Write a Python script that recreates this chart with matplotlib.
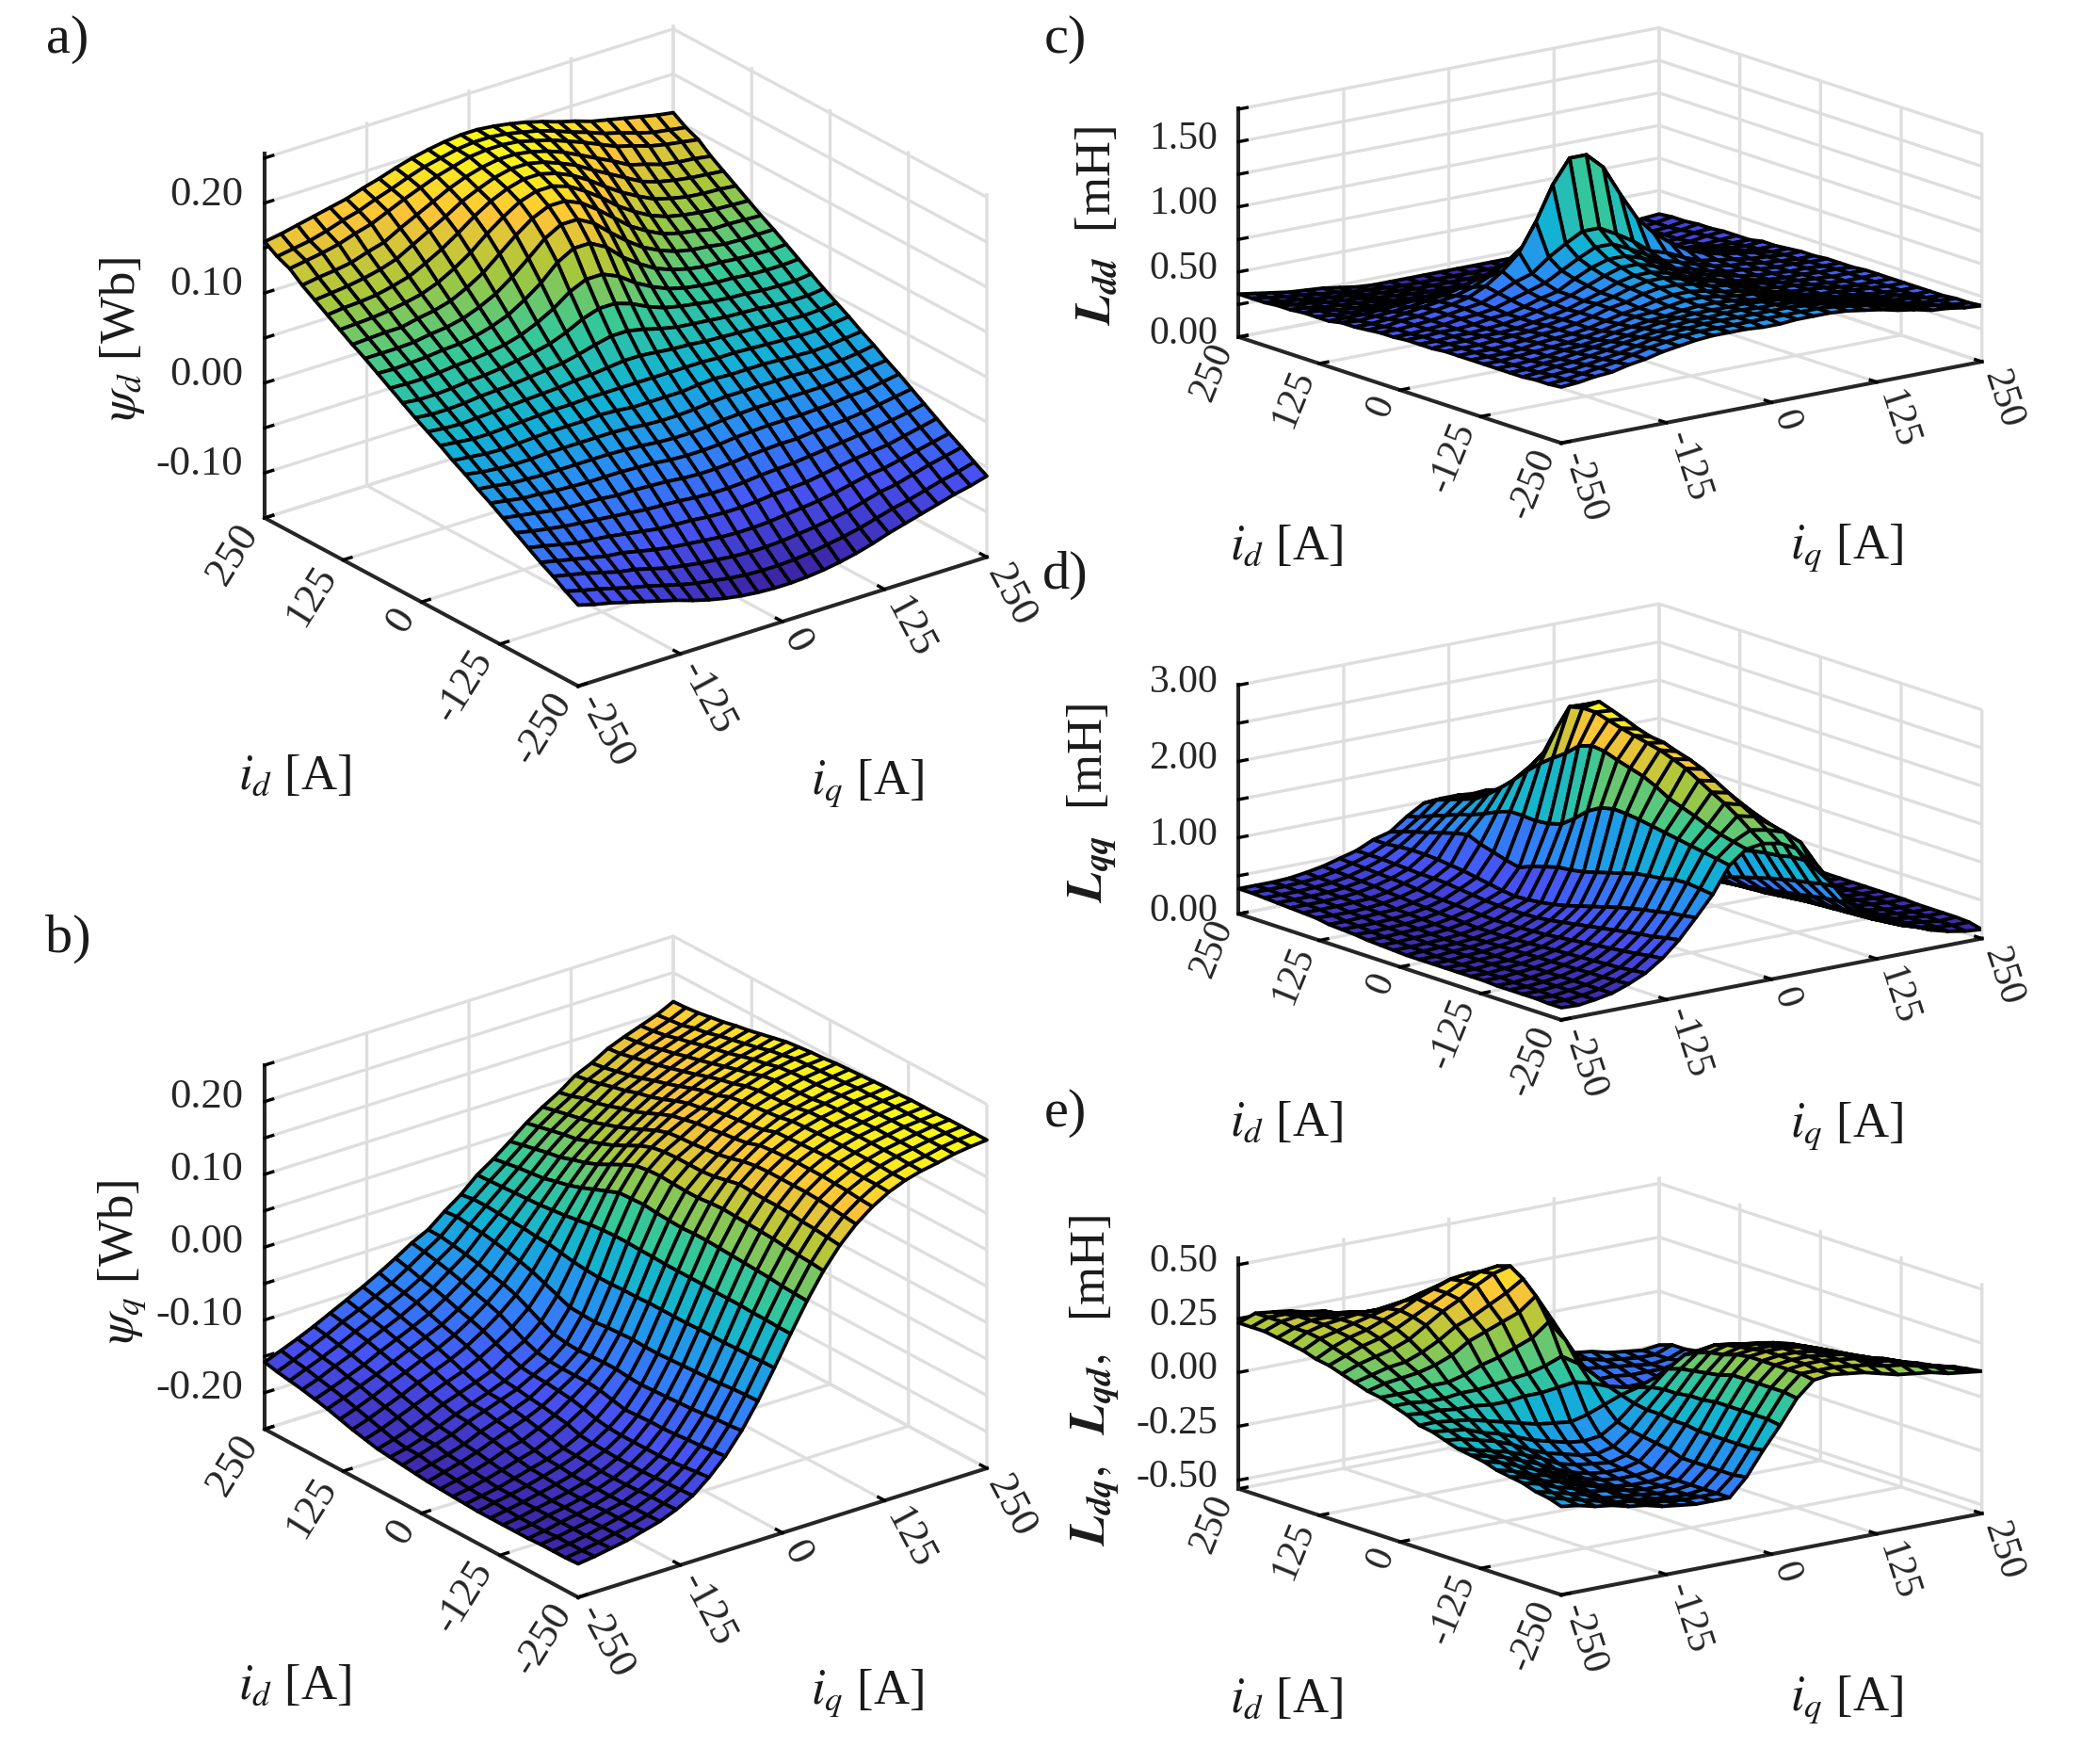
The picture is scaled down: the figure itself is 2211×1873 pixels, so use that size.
import numpy as np
import matplotlib
matplotlib.use("Agg")
import matplotlib.pyplot as plt
from matplotlib.colors import LinearSegmentedColormap, Normalize
from mpl_toolkits.mplot3d import proj3d

FIG_W = 2211
FIG_H = 1873

# Grid of the stored maps, rows are i_d, columns are i_q.
I_D = [-250, -230, -210, -190, -170, -150, -130, -110, -90, -70, -50, -30, -10, 10, 30, 50, 70, 90, 110, 130, 150, 170, 190, 210, 230, 250]
I_Q = [-250, -230, -210, -190, -170, -150, -130, -110, -90, -70, -50, -30, -10, 10, 30, 50, 70, 90, 110, 130, 150, 170, 190, 210, 230, 250]

AXIS_TICKS = [-250, -125, 0, 125, 250]
AXIS_TICK_LABELS = ["-250", "-125", "0", "125", "250"]

# Flux linkage in mWb.
PSI_D = [
    [-60, -65, -69, -74, -79, -84, -89, -95, -100, -104, -107, -109, -110, -110, -109, -107, -104, -100, -95, -89, -84, -79, -74, -69, -65, -60],
    [-52, -57, -61, -66, -71, -75, -80, -85, -89, -92, -95, -97, -98, -98, -97, -95, -92, -89, -85, -80, -75, -71, -66, -61, -57, -52],
    [-43, -47, -51, -56, -61, -64, -69, -74, -77, -80, -82, -84, -85, -85, -84, -82, -80, -77, -74, -69, -64, -61, -56, -51, -47, -43],
    [-35, -39, -43, -47, -51, -53, -57, -61, -64, -66, -68, -70, -71, -71, -70, -68, -66, -64, -61, -57, -53, -51, -47, -43, -39, -35],
    [-26, -30, -34, -38, -40, -42, -45, -48, -51, -52, -53, -55, -56, -56, -55, -53, -52, -51, -48, -45, -42, -40, -38, -34, -30, -26],
    [-17, -21, -24, -27, -29, -31, -33, -35, -37, -38, -39, -41, -42, -42, -41, -39, -38, -37, -35, -33, -31, -29, -27, -24, -21, -17],
    [-8, -11, -14, -17, -19, -20, -21, -23, -23, -24, -25, -27, -28, -28, -27, -25, -24, -23, -23, -21, -20, -19, -17, -14, -11, -8],
    [1, -2, -5, -6, -8, -9, -10, -10, -10, -11, -12, -14, -15, -15, -14, -12, -11, -10, -10, -10, -9, -8, -6, -5, -2, 1],
    [9, 7, 4, 3, 2, 2, 2, 2, 2, 1, 0, -2, -3, -3, -2, 0, 1, 2, 2, 2, 2, 2, 3, 4, 7, 9],
    [18, 15, 13, 12, 12, 13, 13, 13, 13, 13, 12, 10, 9, 9, 10, 12, 13, 13, 13, 13, 13, 12, 12, 13, 15, 18],
    [26, 24, 22, 21, 22, 23, 24, 24, 24, 25, 24, 22, 22, 22, 22, 24, 25, 24, 24, 24, 23, 22, 21, 22, 24, 26],
    [35, 33, 31, 31, 32, 33, 34, 35, 35, 36, 36, 36, 36, 36, 36, 36, 36, 35, 35, 34, 33, 32, 31, 31, 33, 35],
    [43, 41, 40, 41, 42, 43, 44, 45, 46, 48, 49, 51, 53, 53, 51, 49, 48, 46, 45, 44, 43, 42, 41, 40, 41, 43],
    [51, 49, 49, 50, 52, 53, 54, 56, 58, 60, 64, 69, 73, 73, 69, 64, 60, 58, 56, 54, 53, 52, 50, 49, 49, 51],
    [60, 58, 58, 59, 61, 62, 64, 67, 70, 74, 81, 90, 96, 96, 90, 81, 74, 70, 67, 64, 62, 61, 59, 58, 58, 60],
    [69, 68, 68, 69, 71, 72, 74, 77, 82, 90, 100, 113, 121, 121, 113, 100, 90, 82, 77, 74, 72, 71, 69, 68, 68, 69],
    [78, 77, 78, 79, 81, 82, 85, 90, 97, 108, 121, 138, 148, 148, 138, 121, 108, 97, 90, 85, 82, 81, 79, 78, 77, 78],
    [87, 87, 87, 88, 91, 93, 97, 104, 113, 126, 141, 157, 167, 167, 157, 141, 126, 113, 104, 97, 93, 91, 88, 87, 87, 87],
    [95, 96, 97, 97, 101, 104, 109, 118, 129, 144, 159, 172, 180, 180, 172, 159, 144, 129, 118, 109, 104, 101, 97, 97, 96, 95],
    [104, 105, 106, 108, 111, 115, 122, 132, 144, 159, 172, 183, 189, 189, 183, 172, 159, 144, 132, 122, 115, 111, 108, 106, 105, 104],
    [113, 115, 116, 118, 122, 127, 136, 146, 158, 171, 182, 190, 195, 195, 190, 182, 171, 158, 146, 136, 127, 122, 118, 116, 115, 113],
    [122, 124, 126, 129, 133, 139, 149, 159, 169, 180, 188, 195, 199, 199, 195, 188, 180, 169, 159, 149, 139, 133, 129, 126, 124, 122],
    [131, 134, 136, 139, 145, 150, 160, 169, 178, 187, 194, 199, 202, 202, 199, 194, 187, 178, 169, 160, 150, 145, 139, 136, 134, 131],
    [142, 145, 148, 152, 158, 163, 171, 179, 186, 193, 198, 203, 205, 205, 203, 198, 193, 186, 179, 171, 163, 158, 152, 148, 145, 142],
    [148, 151, 154, 159, 165, 170, 177, 183, 190, 196, 200, 204, 206, 206, 204, 200, 196, 190, 183, 177, 170, 165, 159, 154, 151, 148],
    [157, 160, 164, 168, 172, 176, 182, 187, 193, 198, 202, 205, 207, 207, 205, 202, 198, 193, 187, 182, 176, 172, 168, 164, 160, 157],
]

PSI_Q = [
    [-204, -201, -197, -193, -187, -181, -172, -160, -142, -120, -92, -58, -20, 20, 58, 92, 120, 142, 159, 172, 181, 187, 191, 196, 199, 201],
    [-205, -202, -198, -193, -188, -182, -173, -161, -144, -122, -94, -59, -20, 20, 59, 94, 122, 144, 160, 173, 181, 187, 191, 196, 199, 201],
    [-205, -202, -198, -193, -188, -182, -173, -162, -146, -124, -95, -60, -21, 21, 60, 95, 124, 146, 162, 173, 182, 188, 192, 196, 199, 201],
    [-205, -202, -198, -194, -188, -183, -174, -163, -148, -125, -97, -62, -21, 21, 62, 97, 125, 148, 163, 174, 182, 188, 192, 196, 199, 201],
    [-206, -203, -198, -194, -189, -183, -175, -164, -149, -127, -99, -63, -22, 22, 63, 99, 127, 149, 164, 175, 182, 188, 192, 196, 198, 200],
    [-206, -203, -198, -194, -189, -183, -175, -164, -149, -128, -100, -64, -22, 22, 64, 100, 128, 149, 164, 175, 182, 188, 192, 196, 198, 200],
    [-206, -203, -198, -194, -189, -183, -175, -164, -149, -128, -101, -65, -22, 22, 65, 101, 128, 149, 164, 174, 182, 187, 191, 195, 198, 200],
    [-206, -202, -198, -193, -188, -182, -173, -163, -149, -129, -102, -66, -23, 23, 66, 102, 129, 149, 163, 173, 181, 186, 190, 194, 197, 199],
    [-206, -201, -197, -192, -186, -180, -172, -162, -148, -130, -103, -67, -23, 23, 67, 103, 130, 148, 162, 172, 180, 186, 190, 194, 196, 199],
    [-205, -201, -197, -191, -185, -179, -171, -160, -145, -126, -102, -67, -23, 23, 67, 102, 126, 145, 160, 171, 179, 185, 189, 193, 196, 198],
    [-204, -200, -195, -189, -182, -176, -166, -154, -140, -122, -100, -66, -23, 23, 66, 100, 122, 140, 154, 165, 175, 181, 186, 191, 194, 197],
    [-203, -198, -193, -186, -178, -172, -162, -151, -136, -120, -100, -67, -24, 24, 67, 100, 120, 136, 151, 162, 173, 179, 185, 190, 193, 196],
    [-202, -196, -190, -183, -174, -166, -158, -148, -134, -120, -101, -68, -24, 24, 68, 101, 120, 134, 149, 160, 171, 178, 184, 189, 192, 195],
    [-200, -194, -188, -181, -171, -163, -155, -146, -132, -120, -102, -70, -25, 25, 70, 102, 120, 132, 146, 158, 169, 177, 184, 188, 191, 193],
    [-198, -191, -184, -177, -167, -159, -151, -143, -131, -119, -101, -69, -25, 25, 69, 101, 119, 131, 144, 155, 166, 174, 181, 186, 190, 192],
    [-196, -191, -184, -175, -166, -158, -150, -141, -129, -116, -98, -68, -24, 24, 68, 98, 116, 129, 140, 149, 159, 168, 175, 181, 186, 190],
    [-194, -188, -180, -171, -161, -153, -145, -136, -122, -109, -90, -61, -22, 22, 61, 90, 109, 123, 136, 146, 156, 164, 171, 178, 183, 188],
    [-190, -183, -174, -165, -156, -147, -139, -128, -115, -100, -81, -54, -19, 19, 54, 81, 100, 115, 129, 140, 150, 159, 166, 173, 178, 184],
    [-186, -178, -169, -160, -150, -141, -132, -121, -107, -91, -72, -47, -16, 16, 47, 72, 91, 107, 121, 133, 144, 153, 161, 168, 174, 180],
    [-181, -173, -164, -154, -145, -135, -126, -115, -101, -85, -66, -42, -15, 14, 41, 65, 84, 100, 114, 127, 138, 148, 156, 164, 170, 176],
    [-176, -168, -159, -150, -140, -130, -120, -110, -96, -80, -62, -38, -13, 12, 37, 60, 78, 94, 109, 123, 133, 143, 152, 160, 166, 173],
    [-172, -164, -155, -146, -135, -125, -115, -104, -90, -74, -57, -34, -12, 11, 32, 54, 72, 88, 103, 117, 127, 138, 147, 155, 161, 169],
    [-168, -160, -150, -141, -130, -120, -110, -98, -85, -69, -53, -31, -11, 10, 30, 51, 69, 84, 98, 113, 122, 134, 143, 151, 158, 166],
    [-165, -156, -147, -137, -126, -116, -105, -94, -81, -65, -50, -29, -10, 9, 28, 47, 65, 80, 95, 108, 118, 130, 138, 146, 153, 163],
    [-162, -153, -143, -133, -122, -112, -101, -90, -76, -61, -47, -27, -10, 8, 25, 43, 61, 76, 89, 104, 114, 126, 135, 143, 151, 161],
    [-158, -149, -140, -130, -119, -108, -97, -85, -72, -58, -47, -29, -13, 7, 22, 39, 57, 72, 85, 101, 111, 124, 133, 141, 149, 160],
]

# Inductances in 0.01 mH.
L_DD = [
    [43, 44, 46, 47, 50, 52, 55, 57, 59, 60, 60, 60, 59, 59, 60, 60, 60, 59, 57, 55, 52, 50, 47, 46, 44, 43],
    [42, 43, 45, 47, 49, 52, 55, 57, 59, 60, 60, 60, 60, 60, 60, 60, 60, 59, 57, 55, 52, 49, 47, 45, 43, 42],
    [42, 43, 44, 46, 48, 50, 53, 56, 58, 59, 60, 60, 60, 60, 60, 60, 59, 58, 56, 53, 50, 48, 46, 44, 43, 42],
    [41, 42, 44, 45, 47, 49, 52, 54, 56, 58, 59, 59, 60, 60, 59, 59, 58, 56, 54, 52, 49, 47, 45, 44, 42, 41],
    [41, 41, 43, 44, 46, 48, 50, 52, 55, 57, 58, 59, 59, 59, 59, 58, 57, 55, 52, 50, 48, 46, 44, 43, 41, 41],
    [41, 41, 42, 43, 45, 46, 48, 51, 53, 55, 56, 58, 59, 59, 58, 56, 55, 53, 51, 48, 46, 45, 43, 42, 41, 41],
    [41, 41, 42, 43, 44, 45, 47, 49, 52, 55, 56, 58, 60, 60, 58, 56, 55, 52, 49, 47, 45, 44, 43, 42, 41, 41],
    [41, 41, 41, 42, 44, 45, 46, 48, 51, 54, 56, 59, 61, 61, 59, 56, 54, 51, 48, 46, 45, 44, 42, 41, 41, 41],
    [41, 41, 41, 42, 43, 45, 46, 48, 51, 55, 57, 61, 63, 63, 61, 57, 55, 51, 48, 46, 45, 43, 42, 41, 41, 41],
    [41, 41, 41, 42, 43, 44, 46, 48, 51, 55, 58, 62, 65, 65, 62, 58, 55, 51, 48, 46, 44, 43, 42, 41, 41, 41],
    [40, 41, 41, 42, 42, 43, 45, 47, 50, 54, 58, 63, 66, 66, 63, 58, 54, 50, 47, 45, 43, 42, 42, 41, 41, 40],
    [40, 40, 41, 41, 42, 43, 45, 48, 51, 55, 60, 65, 69, 69, 65, 60, 55, 51, 48, 45, 43, 42, 41, 41, 40, 40],
    [40, 40, 41, 41, 42, 44, 45, 48, 52, 55, 62, 68, 72, 72, 68, 62, 55, 52, 48, 45, 44, 42, 41, 41, 40, 40],
    [39, 39, 40, 41, 43, 44, 46, 50, 54, 58, 65, 72, 78, 78, 72, 65, 58, 54, 50, 46, 44, 43, 41, 40, 39, 39],
    [39, 39, 40, 41, 43, 45, 47, 52, 58, 62, 72, 80, 87, 87, 80, 72, 62, 58, 52, 47, 45, 43, 41, 40, 39, 39],
    [38, 38, 40, 41, 43, 45, 48, 54, 63, 75, 96, 122, 140, 140, 128, 105, 84, 70, 60, 52, 47, 44, 42, 40, 38, 38],
    [37, 37, 38, 40, 42, 44, 46, 50, 56, 64, 74, 88, 100, 100, 88, 74, 64, 56, 50, 46, 44, 42, 40, 38, 37, 37],
    [37, 36, 37, 38, 39, 41, 43, 46, 50, 54, 58, 60, 62, 62, 60, 58, 54, 50, 46, 43, 41, 39, 38, 37, 36, 37],
    [35, 35, 35, 36, 37, 38, 39, 41, 42, 45, 47, 48, 49, 49, 48, 47, 45, 42, 41, 39, 38, 37, 36, 35, 35, 35],
    [35, 34, 33, 33, 33, 33, 33, 34, 34, 35, 35, 36, 36, 36, 36, 35, 35, 34, 34, 33, 33, 33, 33, 33, 34, 35],
    [35, 34, 32, 31, 30, 30, 29, 28, 27, 27, 27, 27, 28, 28, 27, 27, 27, 27, 28, 29, 30, 30, 31, 32, 34, 35],
    [34, 33, 31, 30, 29, 28, 26, 25, 24, 24, 24, 24, 24, 24, 24, 24, 24, 24, 25, 26, 28, 29, 30, 31, 33, 34],
    [34, 32, 31, 29, 28, 27, 25, 24, 23, 22, 22, 22, 22, 22, 22, 22, 22, 23, 24, 25, 27, 28, 29, 31, 32, 34],
    [33, 31, 30, 28, 27, 26, 24, 23, 22, 21, 21, 21, 21, 21, 21, 21, 21, 22, 23, 24, 26, 27, 28, 30, 31, 33],
    [33, 31, 29, 28, 26, 25, 23, 22, 21, 20, 20, 20, 20, 20, 20, 20, 20, 21, 22, 23, 25, 26, 28, 29, 31, 33],
    [33, 31, 29, 27, 26, 25, 23, 21, 20, 20, 20, 20, 20, 20, 20, 20, 20, 20, 21, 23, 25, 26, 27, 29, 31, 32],
]

L_QQ = [
    [16, 15, 18, 22, 30, 40, 55, 75, 100, 126, 160, 177, 180, 176, 165, 136, 112, 82, 63, 50, 40, 33, 24, 18, 14, 12],
    [16, 16, 18, 22, 29, 38, 53, 72, 97, 128, 163, 181, 192, 188, 181, 163, 128, 97, 72, 53, 38, 29, 22, 18, 16, 16],
    [17, 16, 19, 22, 28, 36, 50, 68, 95, 130, 166, 185, 205, 200, 185, 166, 130, 95, 68, 50, 36, 28, 22, 19, 16, 17],
    [17, 17, 19, 22, 28, 35, 48, 66, 91, 129, 169, 191, 216, 210, 191, 169, 129, 91, 66, 48, 35, 28, 22, 19, 17, 17],
    [17, 17, 19, 22, 27, 34, 46, 63, 88, 125, 172, 198, 225, 220, 198, 172, 125, 88, 63, 46, 34, 27, 22, 19, 17, 17],
    [17, 17, 19, 22, 27, 33, 44, 60, 84, 123, 175, 204, 235, 230, 204, 175, 123, 84, 60, 44, 33, 27, 22, 19, 17, 17],
    [18, 18, 20, 22, 26, 32, 42, 57, 80, 120, 178, 210, 245, 240, 210, 178, 120, 80, 57, 42, 32, 26, 22, 20, 18, 18],
    [18, 18, 20, 22, 26, 31, 40, 54, 75, 115, 181, 220, 252, 247, 220, 181, 115, 75, 54, 40, 31, 26, 22, 20, 18, 18],
    [18, 18, 20, 21, 25, 30, 38, 51, 70, 110, 183, 228, 258, 252, 228, 183, 110, 70, 51, 38, 30, 25, 21, 20, 18, 18],
    [18, 18, 20, 21, 25, 29, 36, 48, 65, 105, 184, 233, 262, 258, 233, 184, 105, 65, 48, 36, 29, 25, 21, 20, 18, 18],
    [18, 18, 20, 21, 24, 28, 35, 45, 60, 100, 180, 238, 266, 260, 238, 180, 100, 60, 45, 35, 28, 24, 21, 20, 18, 18],
    [18, 18, 20, 21, 24, 27, 34, 43, 56, 97, 170, 244, 270, 265, 244, 170, 97, 56, 43, 34, 27, 24, 21, 20, 18, 18],
    [18, 19, 20, 21, 23, 27, 33, 42, 53, 95, 155, 246, 275, 272, 246, 155, 95, 53, 42, 33, 27, 23, 21, 20, 19, 18],
    [19, 19, 20, 21, 23, 27, 33, 42, 51, 90, 142, 240, 280, 278, 240, 142, 90, 51, 42, 33, 27, 23, 21, 20, 19, 19],
    [20, 20, 21, 22, 24, 28, 34, 42, 50, 85, 137, 225, 280, 284, 225, 137, 85, 50, 42, 34, 28, 24, 22, 21, 20, 20],
    [21, 21, 22, 23, 25, 29, 35, 43, 52, 78, 135, 213, 276, 275, 213, 135, 78, 52, 43, 35, 29, 25, 23, 22, 21, 21],
    [23, 22, 23, 24, 26, 30, 36, 45, 55, 82, 136, 200, 242, 242, 200, 136, 82, 55, 45, 36, 30, 26, 24, 23, 22, 23],
    [24, 24, 24, 25, 27, 31, 37, 47, 58, 87, 136, 185, 205, 205, 185, 136, 87, 58, 47, 37, 31, 27, 25, 24, 24, 24],
    [25, 25, 26, 27, 28, 32, 38, 49, 61, 92, 130, 168, 182, 182, 168, 130, 92, 61, 49, 38, 32, 28, 27, 26, 25, 25],
    [28, 27, 27, 28, 30, 34, 40, 50, 63, 99, 122, 152, 160, 160, 152, 122, 99, 63, 50, 40, 34, 30, 28, 27, 27, 28],
    [29, 29, 29, 30, 31, 35, 42, 50, 65, 95, 115, 138, 145, 145, 138, 115, 95, 65, 50, 42, 35, 31, 30, 29, 29, 29],
    [30, 30, 30, 31, 33, 37, 43, 51, 66, 90, 110, 126, 130, 130, 126, 110, 90, 66, 51, 43, 37, 33, 31, 30, 30, 30],
    [31, 31, 31, 32, 34, 38, 44, 52, 66, 85, 103, 120, 120, 120, 120, 103, 85, 66, 52, 44, 38, 34, 32, 31, 31, 31],
    [32, 32, 32, 33, 35, 39, 45, 53, 65, 80, 97, 114, 110, 110, 114, 97, 80, 65, 53, 45, 39, 35, 33, 32, 32, 32],
    [33, 33, 33, 34, 36, 40, 46, 53, 63, 75, 90, 108, 105, 105, 108, 90, 75, 63, 53, 46, 40, 36, 34, 33, 33, 33],
    [33, 33, 33, 34, 37, 41, 47, 53, 63, 69, 85, 98, 100, 100, 98, 85, 69, 63, 53, 47, 41, 37, 34, 33, 33, 33],
]

L_DQ = [
    [-13, -14, -16, -17, -19, -20, -22, -23, -24, -24, -24, -16, -5, 5, 16, 23, 24, 23, 22, 20, 18, 17, 16, 14, 13, 12],
    [-11, -13, -15, -17, -19, -20, -22, -23, -24, -24, -24, -17, -6, 6, 17, 24, 24, 24, 23, 22, 20, 19, 17, 15, 13, 11],
    [-10, -12, -14, -16, -19, -20, -23, -24, -25, -25, -24, -17, -6, 6, 17, 24, 25, 25, 24, 23, 20, 19, 16, 14, 12, 10],
    [-8, -10, -13, -15, -18, -19, -23, -24, -25, -25, -24, -17, -6, 6, 17, 24, 25, 25, 24, 23, 19, 18, 15, 13, 10, 8],
    [-7, -9, -12, -14, -17, -19, -22, -24, -25, -25, -24, -17, -6, 6, 17, 24, 25, 25, 24, 22, 19, 17, 14, 12, 9, 7],
    [-6, -8, -11, -13, -16, -19, -22, -24, -25, -25, -24, -17, -6, 6, 17, 24, 25, 25, 24, 22, 19, 16, 13, 11, 8, 6],
    [-4, -6, -9, -12, -15, -18, -21, -23, -24, -24, -23, -15, -5, 5, 15, 23, 24, 24, 23, 21, 18, 15, 12, 9, 6, 4],
    [-3, -5, -7, -10, -13, -17, -20, -22, -23, -23, -21, -14, -5, 5, 14, 21, 23, 23, 22, 20, 17, 13, 10, 7, 5, 3],
    [-2, -4, -6, -8, -11, -14, -18, -20, -21, -22, -20, -13, -4, 4, 13, 20, 22, 21, 20, 18, 14, 11, 8, 6, 4, 2],
    [0, -1, -3, -5, -8, -12, -15, -17, -19, -20, -18, -12, -4, 4, 12, 18, 20, 19, 17, 15, 12, 8, 5, 3, 1, 0],
    [2, 1, 0, -3, -5, -8, -11, -13, -15, -16, -15, -10, -3, 3, 10, 15, 16, 15, 13, 11, 8, 5, 3, 0, -1, -2],
    [3, 3, 2, 1, -1, -3, -5, -7, -8, -9, -7, -4, -1, 1, 4, 7, 9, 8, 7, 5, 3, 1, -1, -2, -3, -3],
    [6, 5, 5, 4, 4, 3, 3, 4, 4, 5, 6, 4, 1, -1, -4, -6, -5, -4, -4, -3, -3, -4, -4, -5, -5, -6],
    [8, 8, 7, 7, 8, 8, 9, 10, 11, 13, 16, 11, 4, -4, -11, -16, -13, -11, -10, -9, -8, -8, -7, -7, -8, -8],
    [10, 10, 10, 11, 11, 13, 16, 18, 21, 24, 30, 20, 7, -7, -20, -30, -24, -21, -18, -16, -13, -11, -11, -10, -10, -10],
    [11, 13, 14, 15, 17, 20, 25, 28, 31, 34, 40, 27, 9, -9, -27, -40, -34, -31, -28, -25, -20, -17, -15, -14, -13, -11],
    [13, 15, 17, 18, 21, 25, 30, 33, 37, 41, 46, 31, 11, -11, -31, -46, -41, -37, -33, -30, -25, -21, -18, -17, -15, -13],
    [15, 18, 20, 22, 25, 30, 35, 39, 44, 48, 50, 35, 12, -12, -35, -50, -48, -44, -39, -35, -30, -25, -22, -20, -18, -15],
    [17, 20, 23, 25, 28, 32, 36, 40, 44, 47, 48, 33, 11, -11, -33, -48, -47, -44, -40, -36, -32, -28, -25, -23, -20, -17],
    [18, 22, 25, 27, 30, 33, 37, 40, 43, 44, 42, 28, 10, -10, -28, -42, -44, -43, -40, -37, -33, -30, -27, -25, -22, -18],
    [20, 24, 26, 28, 30, 32, 34, 36, 38, 38, 35, 23, 8, -8, -23, -35, -38, -38, -36, -34, -32, -30, -28, -26, -24, -20],
    [21, 25, 27, 28, 29, 29, 30, 31, 31, 30, 28, 18, 6, -6, -18, -28, -30, -31, -31, -30, -29, -29, -28, -27, -25, -21],
    [22, 25, 27, 27, 27, 26, 26, 26, 25, 23, 21, 14, 5, -5, -14, -21, -23, -25, -26, -26, -26, -27, -27, -27, -25, -22],
    [23, 26, 27, 26, 25, 24, 23, 22, 20, 18, 16, 10, 4, -4, -10, -16, -18, -20, -22, -23, -24, -25, -26, -27, -26, -23],
    [23, 26, 26, 25, 24, 22, 21, 19, 17, 15, 12, 8, 3, -3, -8, -12, -15, -17, -19, -21, -22, -24, -25, -26, -26, -23],
    [23, 26, 25, 24, 22, 21, 18, 15, 13, 10, 8, 6, 2, -2, -6, -8, -10, -13, -15, -18, -21, -22, -24, -25, -26, -25],
]

# z ticks of each panel, empty strings are the unlabelled ticks
PSI_D_TICKS = [-0.15, -0.10, -0.05, 0.00, 0.05, 0.10, 0.15, 0.20, 0.25]
PSI_D_LABELS = ["", "-0.10", "", "0.00", "", "0.10", "", "0.20", ""]
PSI_Q_TICKS = [-0.25, -0.20, -0.15, -0.10, -0.05, 0.00, 0.05, 0.10, 0.15, 0.20, 0.25]
PSI_Q_LABELS = ["", "-0.20", "", "-0.10", "", "0.00", "", "0.10", "", "0.20", ""]
L_DD_TICKS = [0.00, 0.25, 0.50, 0.75, 1.00, 1.25, 1.50, 1.75]
L_DD_LABELS = ["0.00", "", "0.50", "", "1.00", "", "1.50", ""]
L_QQ_TICKS = [0.00, 0.50, 1.00, 1.50, 2.00, 2.50, 3.00]
L_QQ_LABELS = ["0.00", "", "1.00", "", "2.00", "", "3.00"]
L_DQ_TICKS = [-0.50, -0.25, 0.00, 0.25, 0.50]
L_DQ_LABELS = ["-0.50", "-0.25", "0.00", "0.25", "0.50"]

PARULA = LinearSegmentedColormap.from_list(
    "parula_like",
    [
        (0.000, (0.2422, 0.1504, 0.6603)),
        (0.143, (0.2810, 0.3228, 0.9579)),
        (0.286, (0.1786, 0.5289, 0.9682)),
        (0.429, (0.0689, 0.6948, 0.8394)),
        (0.571, (0.2161, 0.7843, 0.5923)),
        (0.714, (0.6720, 0.7793, 0.2227)),
        (0.857, (0.9970, 0.7659, 0.2199)),
        (1.000, (0.9769, 0.9839, 0.0805)),
    ],
)

plt.rcParams["font.family"] = ["Liberation Serif", "DejaVu Serif"]
plt.rcParams["mathtext.fontset"] = "stix"

AXIS_COLOR = "#262626"
GRID_COLOR = "#dedede"


def place_text(figure, x, y, text, size, rotation=0):
    figure.text(x / FIG_W, 1 - y / FIG_H, text, fontsize=size, rotation=rotation,
                ha="center", va="center", color="#1a1a1a")


# Put a 3D axes so the orthographic box lands on the wanted pixels.
def add_box(figure, center_x, center_y, side, height, elev):
    aspect = np.array([1.0, 1.0, height / side])
    scale = 1.8294640721620434 * 25 / 24 / np.linalg.norm(aspect)
    width = side * 0.185 / (0.1 * scale)
    left = center_x - 0.5135 * width
    bottom = FIG_H - center_y - 0.5135 * width
    axis = figure.add_axes([left / FIG_W, bottom / FIG_H, width / FIG_W, width / FIG_H],
                           projection="3d")
    axis.set_proj_type("ortho")
    axis.set_box_aspect(aspect)
    axis.view_init(elev=elev, azim=-127.5)
    axis.patch.set_alpha(0)
    return axis


# mplot3d has no rotated anchored tick labels, so they go next to the projected tick.
def tick_text(axis, point, text, offset, size, rotation, ha):
    x2d, y2d, _ = proj3d.proj_transform(point[0], point[1], point[2], axis.get_proj())
    axis.annotate(text, xy=(x2d, y2d), xycoords="data", xytext=offset, textcoords="offset pixels",
                  fontsize=size, rotation=rotation, rotation_mode="anchor", ha=ha, va="center",
                  color=AXIS_COLOR, annotation_clip=False)


def draw_panel(axis, values, z_limits, z_ticks, z_labels, tick_size, rotation, id_offset, iq_offset, z_offset):
    grid_q, grid_d = np.meshgrid(I_Q, I_D)
    # Each cell takes the colour of its lower corner, as a flat shaded MATLAB surface does.
    face_colors = PARULA(Normalize(values.min(), values.max())(values))
    axis.plot_surface(grid_q, grid_d, values, rstride=1, cstride=1, facecolors=face_colors,
                      edgecolor="black", linewidth=2.7, shade=False, antialiased=True)

    axis.set_xlim(-250, 250, view_margin=0)
    axis.set_ylim(-250, 250, view_margin=0)
    axis.set_zlim(z_limits[0], z_limits[1], view_margin=0)
    axis.set_xticks(AXIS_TICKS)
    axis.set_yticks(AXIS_TICKS)
    axis.set_zticks(z_ticks)
    axis.set_xticklabels([""] * len(AXIS_TICKS))
    axis.set_yticklabels([""] * len(AXIS_TICKS))
    axis.set_zticklabels([""] * len(z_ticks))
    axis.zaxis.set_ticks_position("upper")

    for side in (axis.xaxis, axis.yaxis, axis.zaxis):
        side.pane.fill = False
        side.pane.set_edgecolor("none")
        side.line.set_color(AXIS_COLOR)
        side.line.set_linewidth(2.9)
        side._axinfo["grid"].update(color=GRID_COLOR, linewidth=2.4)
        side._axinfo["tick"].update(inward_factor=0.0, outward_factor=0.25, color=AXIS_COLOR,
                                    linewidth={True: 2.4, False: 1.0})
    axis.grid(True)

    floor = z_limits[0]
    for value, text in zip(AXIS_TICKS, AXIS_TICK_LABELS):
        tick_text(axis, (-250, value, floor), text, id_offset, tick_size, rotation, "right")
        tick_text(axis, (value, -250, floor), text, iq_offset, tick_size, -rotation - 4, "left")
    for value, text in zip(z_ticks, z_labels):
        if text:
            tick_text(axis, (-250, 250, value), text, z_offset, tick_size, 0, "right")


def main():
    figure = plt.figure(figsize=(FIG_W / 100, FIG_H / 100), dpi=100)

    psi_d = np.array(PSI_D) / 1000
    psi_q = np.array(PSI_Q) / 1000
    l_dd = np.array(L_DD) / 100
    l_qq = np.array(L_QQ) / 100
    l_dq = np.array(L_DQ) / 100

    draw_panel(add_box(figure, 664.5, 377.5, 547, 424, 24.3), psi_d, (-0.15, 0.2545),
               PSI_D_TICKS, PSI_D_LABELS, 32, 58, (-16, -10), (10, -11), (-23, 9))
    draw_panel(add_box(figure, 664.5, 1345, 547, 424, 24.3), psi_q, (-0.25, 0.25),
               PSI_Q_TICKS, PSI_Q_LABELS, 32, 58, (-16, -10), (10, -11), (-23, 5))
    draw_panel(add_box(figure, 1710, 249.5, 563, 251, 14.6), l_dd, (0, 1.757),
               L_DD_TICKS, L_DD_LABELS, 30, 68, (-16, -8), (12, -10), (-22, 3))
    draw_panel(add_box(figure, 1710, 862, 563, 251, 14.6), l_qq, (0, 3.0),
               L_QQ_TICKS, L_QQ_LABELS, 30, 68, (-16, -8), (12, -10), (-22, 3))
    draw_panel(add_box(figure, 1710, 1471.5, 563, 253, 14.6), l_dq, (-0.54, 0.53),
               L_DQ_TICKS, L_DQ_LABELS, 30, 68, (-16, -8), (12, -10), (-22, 3))

    for x, y, text in [(72, 42, "a)"), (72, 997, "b)"), (1131, 42, "c)"), (1131, 611, "d)"), (1131, 1182, "e)")]:
        place_text(figure, x, y, text, 42)

    for x, y in [(313, 825), (313, 1791), (1366, 581), (1366, 1193), (1366, 1805)]:
        place_text(figure, x, y, r"$i_d$ [A]", 38)
    for x, y in [(921, 832), (921, 1798), (1961, 582), (1961, 1196), (1961, 1805)]:
        place_text(figure, x, y, r"$i_q$ [A]", 38)

    place_text(figure, 130, 360, r"$\psi_d$ [Wb]", 38, 90)
    place_text(figure, 130, 1340, r"$\psi_q$ [Wb]", 38, 90)
    place_text(figure, 1166, 240, r"$\mathbfit{L}_{\mathbfit{dd}}$  [mH]", 38, 90)
    place_text(figure, 1160, 853, r"$\mathbfit{L}_{\mathbfit{qq}}$  [mH]", 38, 90)
    place_text(figure, 1163, 1466, r"$\mathbfit{L}_{\mathbfit{dq}},\ \ \mathbfit{L}_{\mathbfit{qd}},$  [mH]", 38, 90)

    figure.savefig("out.png", dpi=100)
    plt.close(figure)


if __name__ == "__main__":
    main()
